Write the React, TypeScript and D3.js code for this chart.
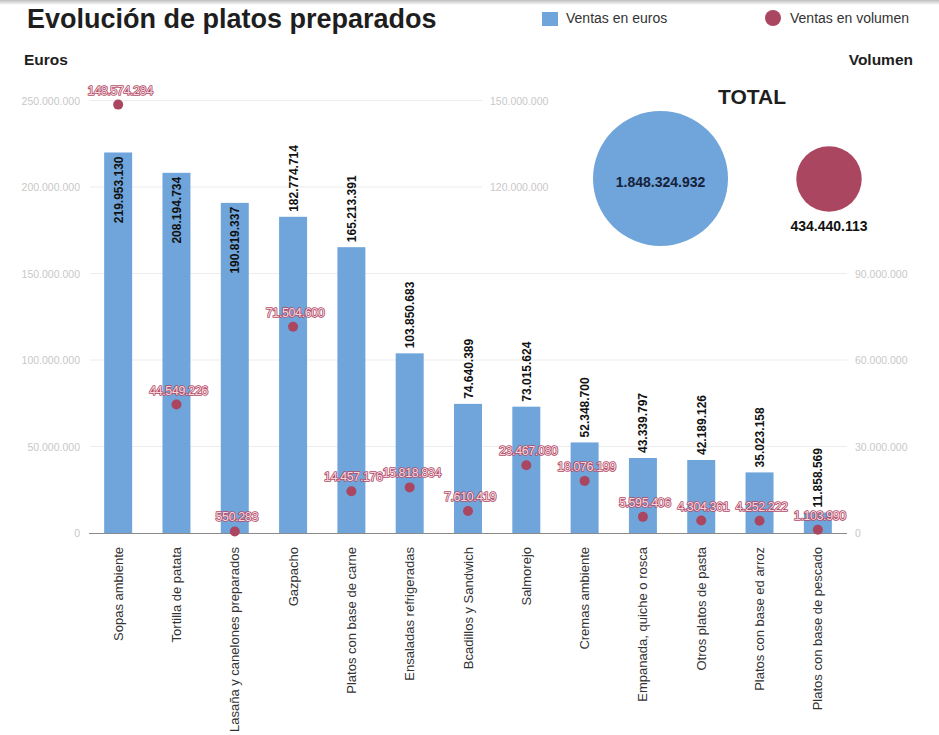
import React from "react";
import * as d3 from "d3";

const categories = [
  "Sopas ambiente",
  "Tortilla de patata",
  "Lasaña y canelones preparados",
  "Gazpacho",
  "Platos con base de carne",
  "Ensaladas refrigeradas",
  "Bcadillos y Sandwich",
  "Salmorejo",
  "Cremas ambiente",
  "Empanada, quiche o rosca",
  "Otros platos de pasta",
  "Platos con base ed arroz",
  "Platos con base de pescado",
];
const euros = [
  219953130, 208194734, 190819337, 182774714, 165213391, 103850683, 74640389,
  73015624, 52348700, 43339797, 42189126, 35023158, 11858569,
];
const volumen = [
  148574284, 44549226, 550283, 71504600, 14457176, 15818834, 7610419, 23467080,
  18076199, 5595406, 4304361, 4252222, 1103990,
];
const leftTicks = [0, 50000000, 100000000, 150000000, 200000000, 250000000];
const rightTicks = [0, 30000000, 60000000, 90000000, 120000000, 150000000];
const totals = [1848324932, 434440113];
const insideLabel = [true, true, true, false, false, false, false, false, false, false, false, false, false];

const BLUE = "#6fa5da";
const RED = "#ab4661";
const W = 939;
const H = 735;

const fmt = (v: number) => v.toString().replace(/\B(?=(\d{3})+(?!\d))/g, ".");

export default function App() {
  const x = d3.scaleBand<string>().domain(categories).range([89, 847]).paddingInner(0.52).paddingOuter(0.26);
  const yL = d3.scaleLinear().domain([0, 250000000]).range([533, 100.5]);
  const yR = d3.scaleLinear().domain([0, 150000000]).range([533, 100.5]);
  const rScale = d3.scaleSqrt().domain([0, totals[0]]).range([0, 67.5]);
  const font = "'Liberation Sans', Arial, sans-serif";

  return (
    <svg width={W} height={H} style={{ position: "absolute", left: 0, top: 0, background: "#fff" }} fontFamily={font}>
      <defs>
        <linearGradient id="topShade" x1="0" y1="0" x2="0" y2="1">
          <stop offset="0" stopColor="#bdbdbd" />
          <stop offset="1" stopColor="#ffffff" />
        </linearGradient>
      </defs>
      <rect x={0} y={0} width={W} height={H} fill="#fff" />
      <rect x={0} y={0} width={W} height={5} fill="url(#topShade)" />

      {/* Title */}
      <text x={27} y={28} fontSize={27} fontWeight="bold" fill="#1e1e1e">Evolución de platos preparados</text>

      {/* Legend */}
      <rect x={542} y={12} width={16} height={14} fill={BLUE} />
      <text x={566} y={23} fontSize={14} fill="#333">Ventas en euros</text>
      <circle cx={773} cy={18} r={8} fill={RED} />
      <text x={790} y={23} fontSize={14} fill="#333">Ventas en volumen</text>

      {/* Axis titles */}
      <text x={24} y={65} fontSize={15.5} fontWeight="bold" fill="#1e1e1e">Euros</text>
      <text x={913} y={65} fontSize={15.5} fontWeight="bold" fill="#1e1e1e" textAnchor="end">Volumen</text>

      {/* Gridlines + left ticks */}
      {leftTicks.map((t, i) => {
        const y = yL(t);
        const short = t >= 200000000;
        return (
          <g key={"l" + i}>
            {t > 0 && <line x1={90} x2={short ? 482 : 847} y1={y} y2={y} stroke="#ececec" strokeWidth={1} />}
            <text x={80} y={y + 4} fontSize={10.5} fill="#c8c8c8" textAnchor="end">{fmt(t)}</text>
          </g>
        );
      })}
      {/* Right ticks */}
      {rightTicks.map((t, i) => {
        const y = yR(t);
        const inner = t >= 120000000;
        return (
          <text key={"r" + i} x={inner ? 490 : 855} y={y + 4} fontSize={10.5} fill="#c8c8c8">{fmt(t)}</text>
        );
      })}

      {/* Bars */}
      {categories.map((c, i) => (
        <rect key={"b" + i} x={x(c)} y={yL(euros[i])} width={x.bandwidth()} height={yL(0) - yL(euros[i])} fill={BLUE} />
      ))}

      {/* Baseline */}
      <line x1={89} x2={847} y1={533.5} y2={533.5} stroke="#8a8a8a" strokeWidth={1.2} />

      {/* Bar labels */}
      {categories.map((c, i) => {
        const cx = (x(c) as number) + x.bandwidth() / 2;
        const top = yL(euros[i]);
        const inside = insideLabel[i];
        const ty = inside ? top + 4 : top - 5;
        return (
          <text
            key={"bl" + i}
            transform={`translate(${cx + 4.5},${ty}) rotate(-90)`}
            fontSize={12}
            fontWeight="bold"
            fill="#111"
            textAnchor={inside ? "end" : "start"}
          >
            {fmt(euros[i])}
          </text>
        );
      })}

      {/* Volume dots */}
      {categories.map((c, i) => {
        const cx = (x(c) as number) + x.bandwidth() / 2;
        const cy = yR(volumen[i]);
        return (
          <g key={"d" + i}>
            <circle cx={cx} cy={cy} r={5} fill={RED} />
            <text
              x={cx + 2}
              y={cy - 10}
              fontSize={12.5}
              textAnchor="middle"
              fill="#f6d6de"
              stroke="#b04c67"
              strokeWidth={1.6}
              strokeLinejoin="round"
              style={{ paintOrder: "stroke" }}
              letterSpacing={-0.4}
            >
              {fmt(volumen[i])}
            </text>
          </g>
        );
      })}

      {/* Category labels */}
      {categories.map((c, i) => {
        const cx = (x(c) as number) + x.bandwidth() / 2;
        return (
          <text key={"c" + i} transform={`translate(${cx + 4.5},547) rotate(-90)`} fontSize={13} fill="#333" textAnchor="end">
            {c}
          </text>
        );
      })}

      {/* Totals */}
      <text x={752} y={104} fontSize={21} fontWeight="bold" fill="#1e1e1e" textAnchor="middle">TOTAL</text>
      <circle cx={660.5} cy={178.5} r={rScale(totals[0])} fill={BLUE} />
      <text x={660.5} y={187} fontSize={14} fontWeight="bold" fill="#15223a" textAnchor="middle">{fmt(totals[0])}</text>
      <circle cx={829} cy={179} r={rScale(totals[1])} fill={RED} />
      <text x={829} y={231} fontSize={14} fontWeight="bold" fill="#111" textAnchor="middle">{fmt(totals[1])}</text>
    </svg>
  );
}
